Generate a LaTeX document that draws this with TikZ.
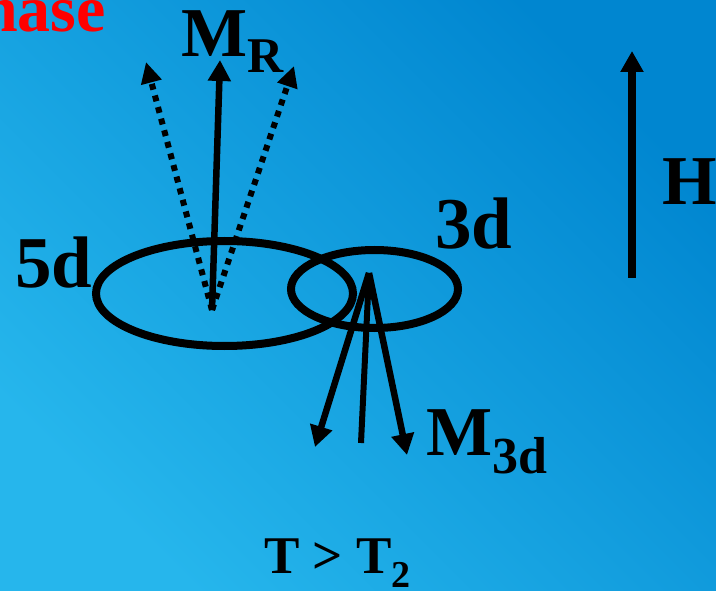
\documentclass[tikz,border=0pt]{standalone}
\usepackage{fontspec}
\setmainfont{Liberation Serif}
\usetikzlibrary{arrows.meta,shapes.geometric}
\definecolor{bglight}{RGB}{38,182,236}
\definecolor{bgdark}{RGB}{0,134,208}
\definecolor{titlered}{RGB}{255,0,0}
\tikzset{
  orbit/.style={draw=black,line width=8pt,ellipse,inner sep=0pt},
  vec/.style={line width=6.5pt,-{Triangle[length=21pt,width=22pt]}},
  dotvec/.style={line width=6pt,dash pattern=on 6pt off 6pt,-{Triangle[length=21pt,width=20pt]}},
  plainvec/.style={line width=6pt},
  big/.style={font=\bfseries\fontsize{70}{70}\selectfont,inner sep=0pt},
  mid/.style={font=\bfseries\fontsize{73}{73}\selectfont,inner sep=0pt},
}
\begin{document}
\begin{tikzpicture}[x=1pt,y=-1pt]
\shade[bottom color=bglight,top color=bgdark,shading angle=-45] (0,0) rectangle (716,591);
\useasboundingbox (0,0) rectangle (716,591);
% title (cut off)
\node[anchor=base east,inner sep=0pt,text=titlered,font=\bfseries\fontsize{66}{66}\selectfont] (title) at (106,32) {Phase};
% orbits
\node[orbit,minimum width=257pt,minimum height=105pt] (o5) at (224.5,293.5) {};
\node[orbit,minimum width=167pt,minimum height=78pt] (o3) at (374.5,289) {};
% 5d moment
\coordinate (c5) at (212,310);
\coordinate (mr) at (220,60);
\coordinate (ml) at (146,62);
\coordinate (mrr) at (294,66);
\draw[vec] (c5) -- (mr);
\draw[dotvec] (c5) -- (ml);
\draw[dotvec] (c5) -- (mrr);
% 3d moment
\coordinate (c3) at (369,273);
\coordinate (dl) at (315,447);
\coordinate (dm) at (361,443);
\coordinate (dr) at (407,455);
\draw[vec] (c3) -- (dl);
\draw[plainvec] (c3) -- (dm);
\draw[vec] (c3) -- (dr);
% field
\coordinate (h0) at (632,278);
\coordinate (h1) at (632,51);
\draw[vec,line width=8pt] (h0) -- (h1);
% labels
\node[big,anchor=base west] (lmr) at (181,57) {M\raisebox{-16pt}{\fontsize{50}{50}\selectfont R}};
\node[mid,anchor=base west] (l5d) at (15,288) {5d};
\node[mid,anchor=base west] (l3d) at (435,249) {3d};
\node[big,anchor=base west] (lh) at (662,205) {H};
\node[big,anchor=base west] (lm3) at (426,455) {M\raisebox{-18pt}{\fontsize{52}{52}\selectfont 3d}};
\node[anchor=base west,inner sep=0pt,font=\bfseries\fontsize{53}{53}\selectfont] (lt) at (264,573) {T > T\raisebox{-14pt}{\fontsize{38}{38}\selectfont 2}};
\end{tikzpicture}
\end{document}
